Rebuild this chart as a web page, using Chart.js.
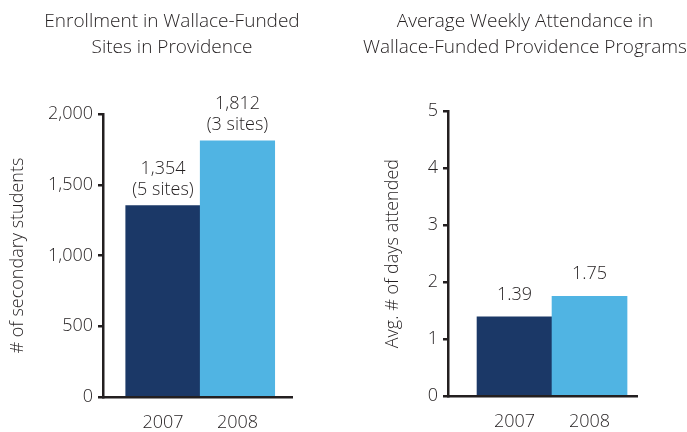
<!DOCTYPE html>
<html>
<head>
<meta charset="utf-8">
<script src="https://cdn.jsdelivr.net/npm/chart.js@4.4.1/dist/chart.umd.min.js"></script>
<style>
  html, body { margin: 0; padding: 0; background: #fff; }
  body { width: 687px; height: 432px; position: relative; overflow: hidden; }
  canvas { position: absolute; top: 0; }
  #enroll { left: 0; }
  #attend { left: 353px; }
</style>
</head>
<body>
<canvas id="enroll" width="344" height="432"></canvas>
<canvas id="attend" width="344" height="432"></canvas>
<script>
// data
const years = [2007, 2008];
const enrollment = [1354, 1812];
const sites = [5, 3];
const attendance = [1.39, 1.75];
const enrollTicks = [0, 500, 1000, 1500, 2000];
const attendTicks = [0, 1, 2, 3, 4, 5];
const barColors = ['#1b3867', '#50b4e3'];

const ink = '#231f20';
const fontFamily = '"Open Sans", "Noto Sans", sans-serif';
const fontWeight = 300;
Chart.defaults.font.family = fontFamily;
Chart.defaults.font.weight = fontWeight;
Chart.defaults.color = ink;

// draws the value labels above each bar
const barLabels = {
    id: 'barLabels',
    afterDatasetsDraw: (chart, args, opts) => {
        const { ctx } = chart;
        const meta = chart.getDatasetMeta(0);
        ctx.save();
        ctx.font = fontWeight + ' 18px ' + fontFamily;
        ctx.fillStyle = ink;
        ctx.textAlign = 'center';
        ctx.textBaseline = 'middle';
        meta.data.forEach((bar, i) => {
            const lines = opts.lines[i];
            lines.forEach((txt, j) => {
                const y = bar.y - opts.gap - (lines.length - 1 - j) * opts.lineGap;
                ctx.fillText(txt, bar.x, y);
            });
        });
        ctx.restore();
    }
};

const makeChart = (id, cfg) => new Chart(document.getElementById(id), {
    type: 'bar',
    data: {
        datasets: [{
            data: years.map((yr, i) => ({ x: yr, y: cfg.values[i] })),
            backgroundColor: barColors,
            borderWidth: 0,
            categoryPercentage: 1,
            barPercentage: 1
        }]
    },
    options: {
        responsive: false,
        animation: false,
        events: [],
        plugins: {
            legend: { display: false },
            tooltip: { enabled: false },
            title: {
                display: true,
                text: cfg.title,
                color: ink,
                font: { size: 19, weight: fontWeight, lineHeight: 1.4 },
                padding: { top: 8, bottom: cfg.titleGap }
            },
            barLabels: cfg.labels
        },
        scales: {
            x: {
                type: 'linear',
                offset: false,
                min: cfg.xMin,
                max: cfg.xMax,
                afterBuildTicks: s => { s.ticks = years.map(v => ({ value: v })); },
                afterFit: s => { s.height = cfg.xHeight; },
                ticks: {
                    callback: v => String(v),
                    font: { size: 18 },
                    color: ink,
                    padding: 15,
                    maxRotation: 0,
                    autoSkip: false
                },
                grid: { display: false, drawTicks: false },
                border: { display: true, color: ink, width: 2.5 }
            },
            y: {
                min: 0,
                max: cfg.yTicks[cfg.yTicks.length - 1],
                afterBuildTicks: s => { s.ticks = cfg.yTicks.map(v => ({ value: v })); },
                afterFit: s => { s.width = cfg.yWidth; },
                ticks: {
                    callback: v => v.toLocaleString('en-US'),
                    font: { size: 18 },
                    color: ink,
                    padding: 5
                },
                grid: {
                    drawOnChartArea: false,
                    drawTicks: true,
                    tickLength: 5,
                    color: ink,
                    lineWidth: 2.5
                },
                border: { display: true, color: ink, width: 2.5 },
                title: {
                    display: true,
                    text: cfg.yTitle,
                    color: ink,
                    font: { size: 18 },
                    padding: { top: cfg.yTitlePad, bottom: 0 }
                }
            },
            // empty spacer on the right so the title stays centred on the canvas
            spacer: {
                type: 'linear',
                position: 'right',
                display: true,
                afterFit: s => { s.width = cfg.right; },
                ticks: { display: false },
                grid: { display: false },
                border: { display: false }
            }
        }
    },
    plugins: [barLabels]
});

makeChart('enroll', {
    values: enrollment,
    title: ['Enrollment in Wallace-Funded', 'Sites in Providence'],
    yTitle: '# of secondary students',
    yTicks: enrollTicks,
    right: 52,
    titleGap: 53,
    xHeight: 35,
    yWidth: 103,
    yTitlePad: 7,
    xMin: 2006.195,
    xMax: 2008.732,
    labels: {
        lines: enrollment.map((v, i) => [v.toLocaleString('en-US'), '(' + sites[i] + ' sites)']),
        gap: 16,
        lineGap: 21
    }
});

makeChart('attend', {
    values: attendance,
    title: ['Average Weekly Attendance in', 'Wallace-Funded Providence Programs'],
    yTitle: 'Avg. # of days attended',
    yTicks: attendTicks,
    right: 60,
    titleGap: 50,
    xHeight: 36,
    yWidth: 95,
    yTitlePad: 29,
    xMin: 2006.113,
    xMax: 2008.633,
    labels: {
        lines: attendance.map(v => [v.toFixed(2)]),
        gap: 22,
        lineGap: 21
    }
});
</script>
</body>
</html>
